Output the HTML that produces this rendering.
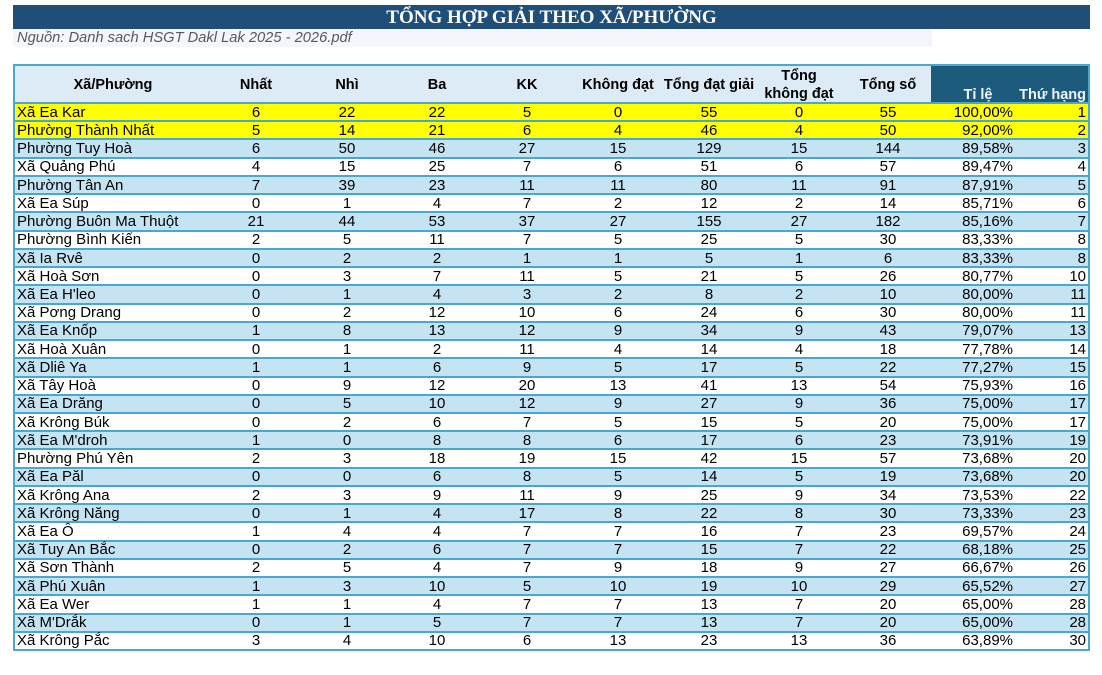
<!DOCTYPE html>
<html>
<head>
<meta charset="utf-8">
<style>
  html,body{margin:0;padding:0;background:#fff;}
  body{width:1102px;height:675px;position:relative;overflow:hidden;font-family:"Liberation Sans",Arial,sans-serif;color:#000;}
  .title{position:absolute;left:13px;top:5px;width:1077px;height:24px;background:#1f4e78;color:#fff;font-family:"Liberation Serif","Times New Roman",serif;font-weight:bold;font-size:19px;line-height:25px;text-align:center;}
  .src{position:absolute;left:13px;top:29px;width:919px;height:18px;background:#f3f6fa;color:#595959;font-style:italic;font-size:14.7px;line-height:19px;padding-left:4px;box-sizing:border-box;}
  .tbl{position:absolute;left:13px;top:64px;width:1077px;height:587px;border:2px solid #4aa8d0;box-sizing:border-box;display:flex;flex-direction:column;}
  .hdr{position:relative;height:36px;flex:none;border-bottom:2px solid #4aa8d0;background:#dcebf6;font-weight:bold;font-size:14.5px;}
  .hdr .dark{position:absolute;left:916px;top:0;width:157px;height:36px;background:#1c5b7c;}
  .hdr span{position:absolute;text-align:center;white-space:nowrap;}
  .hdr .h1{top:10px;line-height:18px;}
  .rows{flex:1;display:flex;flex-direction:column;}
  .r{position:relative;flex:1;font-size:15px;white-space:nowrap;}
  .r:not(:last-child){border-bottom:2px solid #4aa8d0;}
  .r span{position:absolute;top:0;bottom:0;display:flex;align-items:center;}
  .y{background:#ffff00;}
  .b{background:#c5e4f3;}
  .w{background:#fff;}
  .n{left:2px;}
  .c1,.c2,.c3,.c4,.c5,.c6,.c7,.c8{width:90px;justify-content:center;}
  .c1{left:196px}.c2{left:287px}.c3{left:377px}.c4{left:467px}.c5{left:558px}.c6{left:649px}.c7{left:739px}.c8{left:828px}
  .p{left:916px;width:82px;justify-content:flex-end;}
  .k{left:1001px;width:70px;justify-content:flex-end;}
</style>
</head>
<body>
<div class="title">TỔNG HỢP GIẢI THEO XÃ/PHƯỜNG</div>
<div class="src">Nguồn: Danh sach HSGT Dakl Lak 2025 - 2026.pdf</div>
<div class="tbl">
  <div class="hdr">
    <div class="dark"></div>
    <span class="h1" style="left:48px;width:100px;">Xã/Phường</span>
    <span class="h1" style="left:196px;width:90px;">Nhất</span>
    <span class="h1" style="left:287px;width:90px;">Nhì</span>
    <span class="h1" style="left:377px;width:90px;">Ba</span>
    <span class="h1" style="left:467px;width:90px;">KK</span>
    <span class="h1" style="left:553px;width:100px;">Không đạt</span>
    <span class="h1" style="left:639px;width:110px;">Tổng đạt giải</span>
    <span style="left:729px;width:110px;top:1px;line-height:18px;">Tổng<br>không đạt</span>
    <span class="h1" style="left:823px;width:100px;">Tổng số</span>
    <span style="left:923px;width:80px;top:20px;line-height:18px;color:#eef4fa;">Tỉ lệ</span>
    <span style="left:996px;width:75px;top:20px;line-height:18px;text-align:right;color:#eef4fa;">Thứ hạng</span>
  </div>
  <div class="rows">
    <div class="r y"><span class="n">Xã Ea Kar</span><span class="c1">6</span><span class="c2">22</span><span class="c3">22</span><span class="c4">5</span><span class="c5">0</span><span class="c6">55</span><span class="c7">0</span><span class="c8">55</span><span class="p">100,00%</span><span class="k">1</span></div>
    <div class="r y"><span class="n">Phường Thành Nhất</span><span class="c1">5</span><span class="c2">14</span><span class="c3">21</span><span class="c4">6</span><span class="c5">4</span><span class="c6">46</span><span class="c7">4</span><span class="c8">50</span><span class="p">92,00%</span><span class="k">2</span></div>
    <div class="r b"><span class="n">Phường Tuy Hoà</span><span class="c1">6</span><span class="c2">50</span><span class="c3">46</span><span class="c4">27</span><span class="c5">15</span><span class="c6">129</span><span class="c7">15</span><span class="c8">144</span><span class="p">89,58%</span><span class="k">3</span></div>
    <div class="r w"><span class="n">Xã Quảng Phú</span><span class="c1">4</span><span class="c2">15</span><span class="c3">25</span><span class="c4">7</span><span class="c5">6</span><span class="c6">51</span><span class="c7">6</span><span class="c8">57</span><span class="p">89,47%</span><span class="k">4</span></div>
    <div class="r b"><span class="n">Phường Tân An</span><span class="c1">7</span><span class="c2">39</span><span class="c3">23</span><span class="c4">11</span><span class="c5">11</span><span class="c6">80</span><span class="c7">11</span><span class="c8">91</span><span class="p">87,91%</span><span class="k">5</span></div>
    <div class="r w"><span class="n">Xã Ea Súp</span><span class="c1">0</span><span class="c2">1</span><span class="c3">4</span><span class="c4">7</span><span class="c5">2</span><span class="c6">12</span><span class="c7">2</span><span class="c8">14</span><span class="p">85,71%</span><span class="k">6</span></div>
    <div class="r b"><span class="n">Phường Buôn Ma Thuột</span><span class="c1">21</span><span class="c2">44</span><span class="c3">53</span><span class="c4">37</span><span class="c5">27</span><span class="c6">155</span><span class="c7">27</span><span class="c8">182</span><span class="p">85,16%</span><span class="k">7</span></div>
    <div class="r w"><span class="n">Phường Bình Kiến</span><span class="c1">2</span><span class="c2">5</span><span class="c3">11</span><span class="c4">7</span><span class="c5">5</span><span class="c6">25</span><span class="c7">5</span><span class="c8">30</span><span class="p">83,33%</span><span class="k">8</span></div>
    <div class="r b"><span class="n">Xã Ia Rvê</span><span class="c1">0</span><span class="c2">2</span><span class="c3">2</span><span class="c4">1</span><span class="c5">1</span><span class="c6">5</span><span class="c7">1</span><span class="c8">6</span><span class="p">83,33%</span><span class="k">8</span></div>
    <div class="r w"><span class="n">Xã Hoà Sơn</span><span class="c1">0</span><span class="c2">3</span><span class="c3">7</span><span class="c4">11</span><span class="c5">5</span><span class="c6">21</span><span class="c7">5</span><span class="c8">26</span><span class="p">80,77%</span><span class="k">10</span></div>
    <div class="r b"><span class="n">Xã Ea H'leo</span><span class="c1">0</span><span class="c2">1</span><span class="c3">4</span><span class="c4">3</span><span class="c5">2</span><span class="c6">8</span><span class="c7">2</span><span class="c8">10</span><span class="p">80,00%</span><span class="k">11</span></div>
    <div class="r w"><span class="n">Xã Pơng Drang</span><span class="c1">0</span><span class="c2">2</span><span class="c3">12</span><span class="c4">10</span><span class="c5">6</span><span class="c6">24</span><span class="c7">6</span><span class="c8">30</span><span class="p">80,00%</span><span class="k">11</span></div>
    <div class="r b"><span class="n">Xã Ea Knốp</span><span class="c1">1</span><span class="c2">8</span><span class="c3">13</span><span class="c4">12</span><span class="c5">9</span><span class="c6">34</span><span class="c7">9</span><span class="c8">43</span><span class="p">79,07%</span><span class="k">13</span></div>
    <div class="r w"><span class="n">Xã Hoà Xuân</span><span class="c1">0</span><span class="c2">1</span><span class="c3">2</span><span class="c4">11</span><span class="c5">4</span><span class="c6">14</span><span class="c7">4</span><span class="c8">18</span><span class="p">77,78%</span><span class="k">14</span></div>
    <div class="r b"><span class="n">Xã Dliê Ya</span><span class="c1">1</span><span class="c2">1</span><span class="c3">6</span><span class="c4">9</span><span class="c5">5</span><span class="c6">17</span><span class="c7">5</span><span class="c8">22</span><span class="p">77,27%</span><span class="k">15</span></div>
    <div class="r w"><span class="n">Xã Tây Hoà</span><span class="c1">0</span><span class="c2">9</span><span class="c3">12</span><span class="c4">20</span><span class="c5">13</span><span class="c6">41</span><span class="c7">13</span><span class="c8">54</span><span class="p">75,93%</span><span class="k">16</span></div>
    <div class="r b"><span class="n">Xã Ea Drăng</span><span class="c1">0</span><span class="c2">5</span><span class="c3">10</span><span class="c4">12</span><span class="c5">9</span><span class="c6">27</span><span class="c7">9</span><span class="c8">36</span><span class="p">75,00%</span><span class="k">17</span></div>
    <div class="r w"><span class="n">Xã Krông Búk</span><span class="c1">0</span><span class="c2">2</span><span class="c3">6</span><span class="c4">7</span><span class="c5">5</span><span class="c6">15</span><span class="c7">5</span><span class="c8">20</span><span class="p">75,00%</span><span class="k">17</span></div>
    <div class="r b"><span class="n">Xã Ea M'droh</span><span class="c1">1</span><span class="c2">0</span><span class="c3">8</span><span class="c4">8</span><span class="c5">6</span><span class="c6">17</span><span class="c7">6</span><span class="c8">23</span><span class="p">73,91%</span><span class="k">19</span></div>
    <div class="r w"><span class="n">Phường Phú Yên</span><span class="c1">2</span><span class="c2">3</span><span class="c3">18</span><span class="c4">19</span><span class="c5">15</span><span class="c6">42</span><span class="c7">15</span><span class="c8">57</span><span class="p">73,68%</span><span class="k">20</span></div>
    <div class="r b"><span class="n">Xã Ea Păl</span><span class="c1">0</span><span class="c2">0</span><span class="c3">6</span><span class="c4">8</span><span class="c5">5</span><span class="c6">14</span><span class="c7">5</span><span class="c8">19</span><span class="p">73,68%</span><span class="k">20</span></div>
    <div class="r w"><span class="n">Xã Krông Ana</span><span class="c1">2</span><span class="c2">3</span><span class="c3">9</span><span class="c4">11</span><span class="c5">9</span><span class="c6">25</span><span class="c7">9</span><span class="c8">34</span><span class="p">73,53%</span><span class="k">22</span></div>
    <div class="r b"><span class="n">Xã Krông Năng</span><span class="c1">0</span><span class="c2">1</span><span class="c3">4</span><span class="c4">17</span><span class="c5">8</span><span class="c6">22</span><span class="c7">8</span><span class="c8">30</span><span class="p">73,33%</span><span class="k">23</span></div>
    <div class="r w"><span class="n">Xã Ea Ô</span><span class="c1">1</span><span class="c2">4</span><span class="c3">4</span><span class="c4">7</span><span class="c5">7</span><span class="c6">16</span><span class="c7">7</span><span class="c8">23</span><span class="p">69,57%</span><span class="k">24</span></div>
    <div class="r b"><span class="n">Xã Tuy An Bắc</span><span class="c1">0</span><span class="c2">2</span><span class="c3">6</span><span class="c4">7</span><span class="c5">7</span><span class="c6">15</span><span class="c7">7</span><span class="c8">22</span><span class="p">68,18%</span><span class="k">25</span></div>
    <div class="r w"><span class="n">Xã Sơn Thành</span><span class="c1">2</span><span class="c2">5</span><span class="c3">4</span><span class="c4">7</span><span class="c5">9</span><span class="c6">18</span><span class="c7">9</span><span class="c8">27</span><span class="p">66,67%</span><span class="k">26</span></div>
    <div class="r b"><span class="n">Xã Phú Xuân</span><span class="c1">1</span><span class="c2">3</span><span class="c3">10</span><span class="c4">5</span><span class="c5">10</span><span class="c6">19</span><span class="c7">10</span><span class="c8">29</span><span class="p">65,52%</span><span class="k">27</span></div>
    <div class="r w"><span class="n">Xã Ea Wer</span><span class="c1">1</span><span class="c2">1</span><span class="c3">4</span><span class="c4">7</span><span class="c5">7</span><span class="c6">13</span><span class="c7">7</span><span class="c8">20</span><span class="p">65,00%</span><span class="k">28</span></div>
    <div class="r b"><span class="n">Xã M'Drắk</span><span class="c1">0</span><span class="c2">1</span><span class="c3">5</span><span class="c4">7</span><span class="c5">7</span><span class="c6">13</span><span class="c7">7</span><span class="c8">20</span><span class="p">65,00%</span><span class="k">28</span></div>
    <div class="r w"><span class="n">Xã Krông Pắc</span><span class="c1">3</span><span class="c2">4</span><span class="c3">10</span><span class="c4">6</span><span class="c5">13</span><span class="c6">23</span><span class="c7">13</span><span class="c8">36</span><span class="p">63,89%</span><span class="k">30</span></div>
  </div>
</div>
</body>
</html>
